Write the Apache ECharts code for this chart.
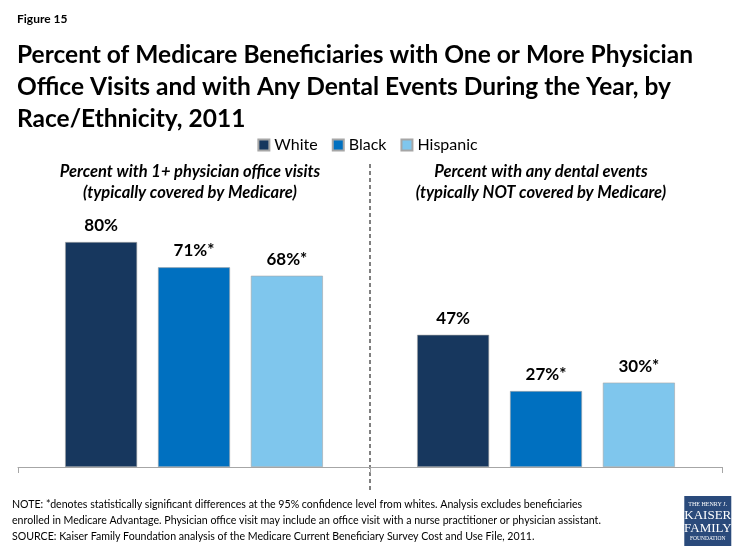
<!DOCTYPE html>
<html lang="en">
<head>
<meta charset="UTF-8">
<script src="https://cdn.jsdelivr.net/npm/echarts@6/dist/echarts.min.js"></script>
<title>Figure 15</title>
<style>
  html, body { margin: 0; padding: 0; background: #fff; }
  #main { width: 735px; height: 551px; }
</style>
</head>
<body>
<div id="main"></div>
<script type="text/javascript">
// data
var groups = ['Percent with 1+ physician office visits', 'Percent with any dental events'];
var seriesNames = ['White', 'Black', 'Hispanic'];
var white = [80, 47];
var black = [71, 27];
var hispanic = [68, 30];
var labelsWhite = ['80%', '47%'];
var labelsBlack = ['71%*', '27%*'];
var labelsHispanic = ['68%*', '30%*'];
var colors = ['#17375e', '#0070c0', '#7fc6ed'];

var font = 'Lato, "Open Sans", sans-serif';
var myChart = echarts.init(document.getElementById('main'));

function makeSeries(name, vals, labels, color) {
    return {
        name: name,
        type: 'bar',
        data: vals,
        barWidth: 72,
        barGap: '29%',
        itemStyle: { color: color, borderColor: '#a6a6a6', borderWidth: 0.6 },
        label: {
            show: true,
            position: 'top',
            distance: 8,
            color: '#000',
            fontFamily: font,
            fontWeight: 'bold',
            fontSize: 17,
            formatter: function (p) { return labels[p.dataIndex]; }
        }
    };
}

var option = {
    animation: false,
    title: [{
        text: 'Figure 15',
        left: 12, top: 8,
        textStyle: { fontFamily: font, fontWeight: 'bold', fontSize: 12, color: '#000' }
    }, {
        text: 'Percent of Medicare Beneficiaries with One or More Physician\nOffice Visits and with Any Dental Events During the Year, by\nRace/Ethnicity, 2011',
        left: 12, top: 34,
        textStyle: { fontFamily: font, fontWeight: 'bold', fontSize: 24.5, lineHeight: 32, color: '#000' }
    }],
    legend: {
        data: seriesNames,
        top: 132,
        left: 'center',
        itemWidth: 11, itemHeight: 11, itemGap: 14,
        icon: 'rect',
        textStyle: { fontFamily: font, fontSize: 16, color: '#000' }
    },
    grid: { left: 18, right: 13, top: 242, bottom: 84 },
    xAxis: {
        type: 'category',
        data: groups,
        axisLine: { lineStyle: { color: '#a6a6a6', width: 1 } },
        axisTick: { show: true, length: 6, interval: 0, lineStyle: { color: '#a6a6a6' } },
        axisLabel: { show: false }
    },
    yAxis: { type: 'value', min: 0, max: 80, show: false },
    series: [
        makeSeries(seriesNames[0], white, labelsWhite, colors[0]),
        makeSeries(seriesNames[1], black, labelsBlack, colors[1]),
        makeSeries(seriesNames[2], hispanic, labelsHispanic, colors[2])
    ],
    graphic: [
        { type: 'line', shape: { x1: 370, y1: 164, x2: 370, y2: 492 },
          style: { stroke: '#000', lineWidth: 1, lineDash: [4, 3] } },
        { type: 'text', x: 190, y: 161, style: {
            text: 'Percent with 1+ physician office visits\n(typically covered by Medicare)',
            align: 'center', fontFamily: font, fontStyle: 'italic', fontWeight: 'bold',
            fontSize: 16.5, lineHeight: 21, fill: '#000' } },
        { type: 'text', x: 541, y: 161, style: {
            text: 'Percent with any dental events\n(typically NOT covered by Medicare)',
            align: 'center', fontFamily: font, fontStyle: 'italic', fontWeight: 'bold',
            fontSize: 16.5, lineHeight: 21, fill: '#000' } },
        { type: 'text', left: 12, top: 497, style: {
            text: 'NOTE: *denotes statistically significant differences at the 95% confidence level from whites. Analysis excludes beneficiaries\nenrolled in Medicare Advantage. Physician office visit may include an office visit with a nurse practitioner or physician assistant.\nSOURCE: Kaiser Family Foundation analysis of the Medicare Current Beneficiary Survey Cost and Use File, 2011.',
            fontFamily: font, fontSize: 10.6, lineHeight: 16, fill: '#000' } },
        { type: 'group', left: 684, top: 496, children: [
            { type: 'rect', shape: { x: 0, y: 0, width: 47, height: 50 }, style: { fill: '#2a4a7b' } },
            { type: 'text', x: 23.5, y: 5, style: { text: 'THE HENRY J.', align: 'center', fontFamily: 'Liberation Serif', fontSize: 6, fill: '#fff' } },
            { type: 'text', x: 23.5, y: 13, style: { text: 'KAISER', align: 'center', fontFamily: 'Liberation Serif', fontSize: 13, fill: '#fff' } },
            { type: 'text', x: 23.5, y: 26, style: { text: 'FAMILY', align: 'center', fontFamily: 'Liberation Serif', fontSize: 13, fill: '#fff' } },
            { type: 'text', x: 23.5, y: 40, style: { text: 'FOUNDATION', align: 'center', fontFamily: 'Liberation Serif', fontSize: 5.5, fill: '#fff' } }
        ] }
    ]
};

myChart.setOption(option);
</script>
</body>
</html>
